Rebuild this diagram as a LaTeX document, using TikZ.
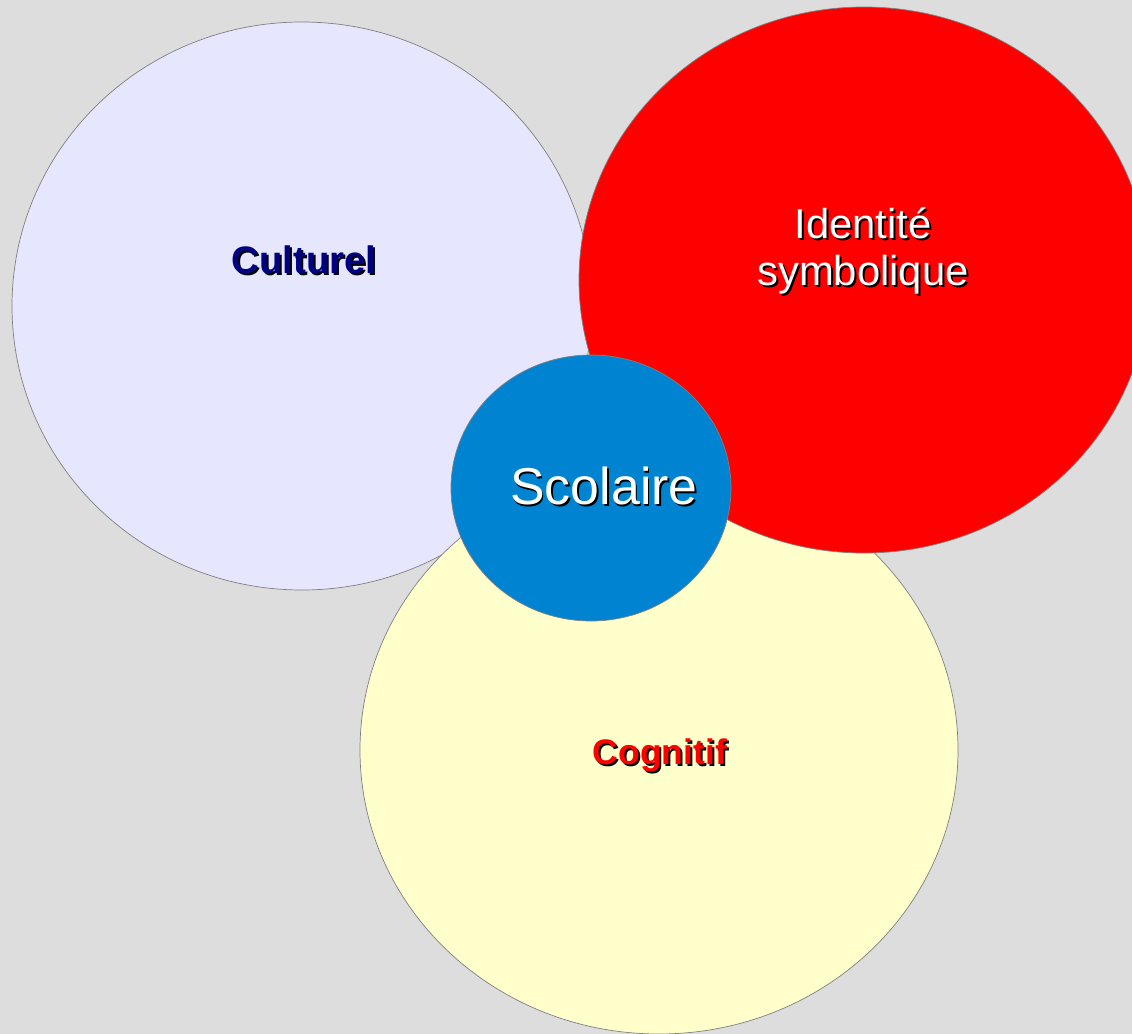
\documentclass[tikz,border=0pt]{standalone}
\usepackage{fontspec}
\setmainfont{Liberation Sans}
\definecolor{fond}{HTML}{DDDDDD}
\definecolor{lavande}{HTML}{E6E6FF}
\definecolor{jaune}{HTML}{FFFFCC}
\definecolor{bleu}{HTML}{0084D1}
\definecolor{marine}{HTML}{000080}
\definecolor{bord}{HTML}{808080}
\tikzset{
  rond/.style={draw=bord, line width=0.4pt},
  ombre/.style={text=black},
}
\begin{document}
\begin{tikzpicture}[x=0.02cm, y=-0.02cm]
\useasboundingbox (0,0) rectangle (1132,1034);
\fill[fond] (0,0) rectangle (1132,1034);
\clip (0,0) rectangle (1132,1034);
% les quatre cercles
\draw[rond, fill=lavande] (302,306) ellipse [x radius=290, y radius=284];
\draw[rond, fill=jaune] (659,750) ellipse [x radius=299, y radius=284];
\draw[rond, fill=red] (864,280) ellipse [x radius=285, y radius=273];
\draw[rond, fill=bleu] (591,488) ellipse [x radius=140, y radius=133];
% les textes, avec leur ombre
\node[ombre, font=\bfseries\fontsize{21.8}{26}\selectfont] at (306,262) (cultS) {Culturel};
\node[text=marine, font=\bfseries\fontsize{21.8}{26}\selectfont] at (304,260) (cult) {Culturel};
\node[ombre, align=center, font=\fontsize{23.8}{26.6}\selectfont] at (865,253) (identS) {Identité\\symbolique};
\node[text=white, align=center, font=\fontsize{23.8}{26.6}\selectfont] at (863,251) (ident) {Identité\\symbolique};
\node[ombre, font=\fontsize{29.5}{34}\selectfont] at (605.5,487.5) (scolS) {Scolaire};
\node[text=white, font=\fontsize{29.5}{34}\selectfont] at (604,486) (scol) {Scolaire};
\node[ombre, font=\bfseries\fontsize{20.2}{24}\selectfont] at (662,757) (cognS) {Cognitif};
\node[text=red, font=\bfseries\fontsize{20.2}{24}\selectfont] at (660,755) (cogn) {Cognitif};
\end{tikzpicture}
\end{document}
